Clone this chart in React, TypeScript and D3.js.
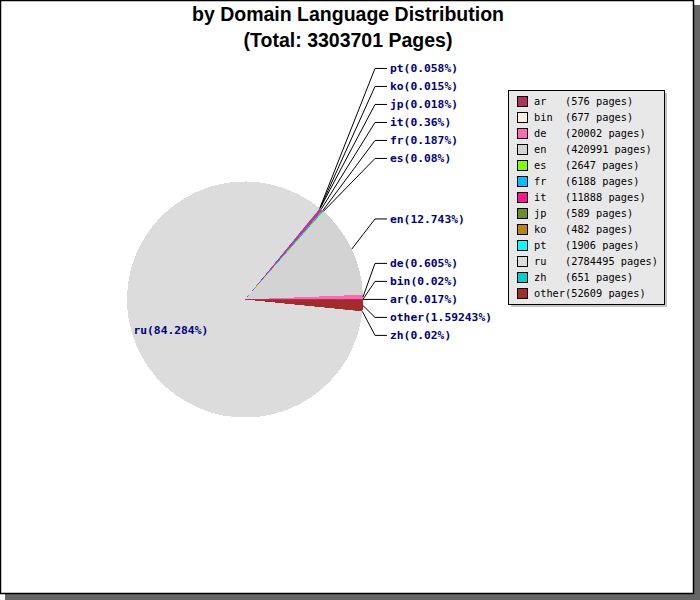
import React from "react";
import * as d3 from "d3";

// Page counts per domain language
const languages = ["ar", "bin", "de", "en", "es", "fr", "it", "jp", "ko", "pt", "ru", "zh", "other"];
const pages = [576, 677, 20002, 420991, 2647, 6188, 11888, 589, 482, 1906, 2784495, 651, 52609];
const percentLabels = ["0.017", "0.02", "0.605", "12.743", "0.08", "0.187", "0.36", "0.018", "0.015", "0.058", "84.284", "0.02", "1.59243"];
const sliceColors = [
  "#b03060", "#faf0e6", "#ff69b4", "#d3d3d3", "#7fff00", "#00bfff", "#ff1493",
  "#6b8e23", "#b8860b", "#00ffff", "#dcdcdc", "#00ced1", "#a52a2a",
];

const W = 700;
const H = 600;
const CX = 245;
const CY = 299.5;
const R = 118;
const LABEL_GAP = 18;
const ELBOW_X = CX + R + 12;
const TEXT_X = ELBOW_X + 15;

type Datum = { name: string; value: number; pct: string; color: string };

export default function App() {
  const data: Datum[] = languages.map((name, i) => ({
    name,
    value: pages[i],
    pct: percentLabels[i],
    color: sliceColors[i],
  }));
  const total = d3.sum(pages);

  // Counter-clockwise from 3 o'clock
  const pie = d3
    .pie<Datum>()
    .sort(null)
    .value((d) => d.value)
    .startAngle(Math.PI / 2)
    .endAngle(Math.PI / 2 - 2 * Math.PI);
  const arcs = pie(data);
  const arc = d3.arc<d3.PieArcDatum<Datum>>().innerRadius(0).outerRadius(R);

  const pt = (a: number, r: number) => [CX + r * Math.sin(a), CY - r * Math.cos(a)];

  // Label layout: left-pointing slices get an inside label, others go in a right column
  type Lab = { d: d3.PieArcDatum<Datum>; mid: number; natural: number; y: number };
  const inside: Lab[] = [];
  const right: Lab[] = [];
  arcs.forEach((d) => {
    const mid = (d.startAngle + d.endAngle) / 2;
    const natural = CY - 1.6 * R * Math.cos(mid);
    const lab = { d, mid, natural, y: natural };
    if (Math.sin(mid) < 0) inside.push(lab);
    else right.push(lab);
  });
  const upper = right.filter((l) => l.natural <= CY).sort((a, b) => b.natural - a.natural);
  const lower = right.filter((l) => l.natural > CY).sort((a, b) => a.natural - b.natural);
  let prev = Infinity;
  upper.forEach((l) => {
    l.y = Math.min(l.natural, prev - LABEL_GAP);
    prev = l.y;
  });
  prev = upper.length ? d3.max(upper, (l) => l.y)! : -Infinity;
  lower.forEach((l) => {
    l.y = Math.max(l.natural, prev + LABEL_GAP);
    prev = l.y;
  });

  const labelFont = {
    fontFamily: "'DejaVu Sans Mono', monospace",
    fontWeight: "bold" as const,
    fontSize: 11.3,
    fill: "#000080",
  };

  // Legend
  const LX = 508;
  const LY = 90;
  const LW = 156;
  const LH = 214;
  const rowH = 16;

  return (
    <svg width={W} height={H} style={{ position: "absolute", left: 0, top: 0 }}>
      <rect x={5} y={5} width={W - 5} height={H - 5} fill="#666666" />
      <rect x={0.5} y={0.5} width={693} height={593} fill="#ffffff" stroke="#000" strokeWidth={1.5} />

      <g fontFamily="'Liberation Sans', Arial, sans-serif" fontWeight="bold" fontSize={19.5} textAnchor="middle" fill="#000">
        <text x={348} y={21}>by Domain Language Distribution</text>
        <text x={348} y={46.5}>(Total: {total} Pages)</text>
      </g>

      <g shapeRendering="crispEdges">
        {arcs.map((d, i) => (
          <path key={i} d={arc(d) || ""} transform={`translate(${CX},${CY})`} fill={d.data.color} />
        ))}
      </g>

      <g>
        {right.map((l, i) => {
          const [x0, y0] = pt(l.mid, R);
          return (
            <g key={i}>
              <polyline
                points={`${x0},${y0} ${ELBOW_X},${l.y} ${ELBOW_X + 12},${l.y}`}
                fill="none"
                stroke="#000"
                strokeWidth={1}
              />
              <text x={TEXT_X} y={l.y} dy="0.35em" {...labelFont}>
                {`${l.d.data.name}(${l.d.data.pct}%)`}
              </text>
            </g>
          );
        })}
        {inside.map((l, i) => {
          const [x, y] = pt(l.mid, R * 0.68);
          return (
            <text key={i} x={x} y={y} dy="0.35em" textAnchor="middle" {...labelFont}>
              {`${l.d.data.name}(${l.d.data.pct}%)`}
            </text>
          );
        })}
      </g>

      <g>
        <rect x={LX + 3} y={LY + 3} width={LW} height={LH} fill="#c4c4c4" />
        <rect x={LX + 0.5} y={LY + 0.5} width={LW} height={LH} fill="#e8e8e8" stroke="#000" strokeWidth={1} />
        {data.map((d, i) => {
          const cy = LY + 11 + i * rowH;
          return (
            <g key={i}>
              <rect x={LX + 9.5} y={cy - 4.5} width={10} height={10} fill={d.color} stroke="#000" strokeWidth={1} />
              <text
                x={LX + 26}
                y={cy}
                dy="0.35em"
                fontFamily="'DejaVu Sans Mono', monospace"
                fontSize={10.3}
                fill="#000"
                style={{ whiteSpace: "pre" }}
              >
                {`${d.name.padEnd(5, " ")}(${d.value} pages)`}
              </text>
            </g>
          );
        })}
      </g>
    </svg>
  );
}
